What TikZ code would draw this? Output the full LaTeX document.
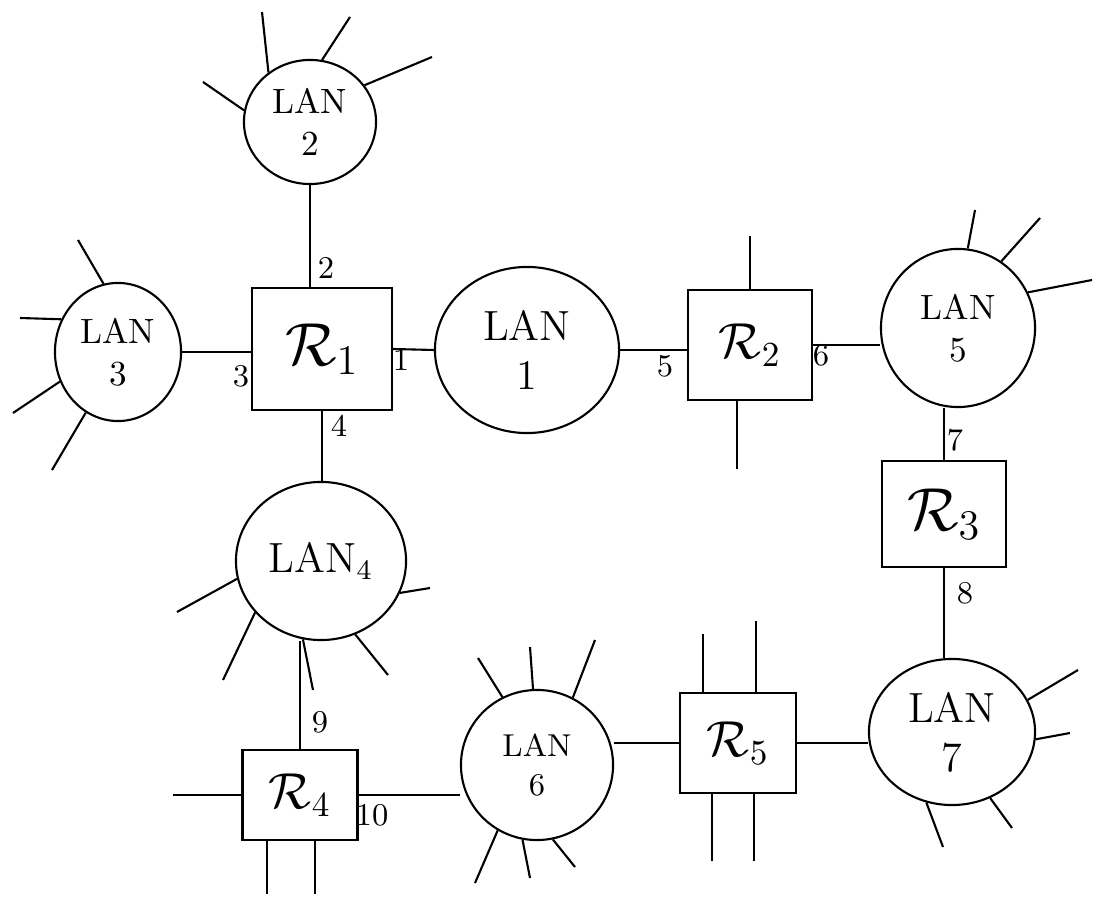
\documentclass[tikz,border=0pt]{standalone}
\usepackage{tikz}
\usepackage{amsmath}
\usetikzlibrary{shapes.geometric,positioning,calc}

\begin{document}
\begin{tikzpicture}[x=0.01cm, y=-0.01cm, line width=0.6pt,
        lan/.style={ellipse, draw, inner sep=0pt, align=center, font=\large},
        router/.style={rectangle, draw, inner sep=0pt, font=\Large},
        port/.style={font=\small, inner sep=1pt}]
        \useasboundingbox (0,0) rectangle (1107,904);
        % LANs
        \node [lan, minimum width=1.32cm, minimum height=1.24cm, font=\normalsize] (lan2) at (310,122) {LAN\\2};
        \node [lan, minimum width=1.26cm, minimum height=1.38cm, font=\normalsize] (lan3) at (118,352) {LAN\\3};
        \node [lan, minimum width=1.84cm, minimum height=1.66cm] (lan1) at (527,350) {LAN\\1};
        \node [lan, minimum width=1.70cm, minimum height=1.58cm] (lan4) at (321,561) {LAN$_4$};
        \node [lan, minimum width=1.54cm, minimum height=1.58cm, font=\normalsize] (lan5) at (958,328) {LAN\\5};
        \node [lan, minimum width=1.52cm, minimum height=1.50cm, font=\small] (lan6) at (537,765) {LAN\\6};
        \node [lan, minimum width=1.66cm, minimum height=1.46cm] (lan7) at (952,732) {LAN\\7};
        % Routers
        \node [router, minimum width=1.40cm, minimum height=1.22cm, font=\LARGE] (r1) at (322,349) {$\mathcal{R}_1$};
        \node [router, minimum width=1.24cm, minimum height=1.10cm] (r2) at (750,345) {$\mathcal{R}_2$};
        \node [router, minimum width=1.24cm, minimum height=1.06cm, font=\LARGE] (r3) at (944,514) {$\mathcal{R}_3$};
        \node [router, minimum width=1.15cm, minimum height=0.90cm] (r4) at (300,795) {$\mathcal{R}_4$};
        \node [router, minimum width=1.16cm, minimum height=1.00cm] (r5) at (738,743) {$\mathcal{R}_5$};
        % Links between LANs and routers
        \draw (lan2.south) -- (lan2.south |- r1.north);
        \draw (lan3.east) -- (lan3.east -| r1.west);
        \draw (r1.east) -- (lan1.west);
        \draw (r1.south) -- (r1.south |- lan4.north);
        \draw (lan1.east) -- (lan1.east -| r2.west);
        \draw (r2.east) -- (r2.east -| lan5.west);
        \draw (r3.north) -- (r3.north |- lan5.south);
        \draw (r3.south) -- (r3.south |- lan7.north);
        \draw (r5.east) -- (r5.east -| lan7.west);
        \draw (r5.west) -- (r5.west -| lan6.east);
        \draw (r4.east) -- (r4.east -| lan6.west);
        \draw (r4.north) -- (r4.north |- lan4.south);
        % Loose hosts on the LANs
        \foreach \a/\x/\y in {130/262/12, 79/350/17, 34/432/57, 170/203/82}
            \draw (lan2.\a) -- (\x,\y);
        \foreach \a/\x/\y in {102/78/240, 150/20/318, 207/13/413, 242/52/470}
            \draw (lan3.\a) -- (\x,\y);
        \foreach \a/\x/\y in {192/177/612, 338/430/588, 218/223/680, 257/313/690, 295/388/675}
            \draw (lan4.\a) -- (\x,\y);
        \foreach \a/\x/\y in {83/975/210, 57/1040/218, 27/1092/280}
            \draw (lan5.\a) -- (\x,\y);
        \foreach \a/\x/\y in {117/478/658, 93/530/647, 62/595/640, 239/475/883, 259/530/878, 282/575/867}
            \draw (lan6.\a) -- (\x,\y);
        \foreach \a/\x/\y in {23/1078/670, 355/1070/733, 300/1012/828, 250/943/847}
            \draw (lan7.\a) -- (\x,\y);
        % Loose lines on the routers
        \draw (r2.north) -- ++(0,-53);
        \draw (r2.south) ++(-13,0) -- ++(0,68);
        \draw (r4.west) -- ++(-68,0);
        \draw (r4.south) ++(-33,0) -- ++(0,53);
        \draw (r4.south) ++(15,0) -- ++(0,53);
        \draw (r5.north) ++(-35,0) -- ++(0,-58);
        \draw (r5.north) ++(18,0) -- ++(0,-71);
        \draw (r5.south) ++(-26,0) -- ++(0,67);
        \draw (r5.south) ++(16,0) -- ++(0,67);
        % Port numbers
        \node [port] (p1) at (401,360) {1};
        \node [port] (p2) at (326,268) {2};
        \node [port] (p3) at (241,376) {3};
        \node [port] (p4) at (339,426) {4};
        \node [port] (p5) at (665,366) {5};
        \node [port] (p6) at (821,355) {6};
        \node [port] (p7) at (955,440) {7};
        \node [port] (p8) at (965,593) {8};
        \node [port] (p9) at (320,722) {9};
        \node [port] (p10) at (372,815) {10};
\end{tikzpicture}
\end{document}
